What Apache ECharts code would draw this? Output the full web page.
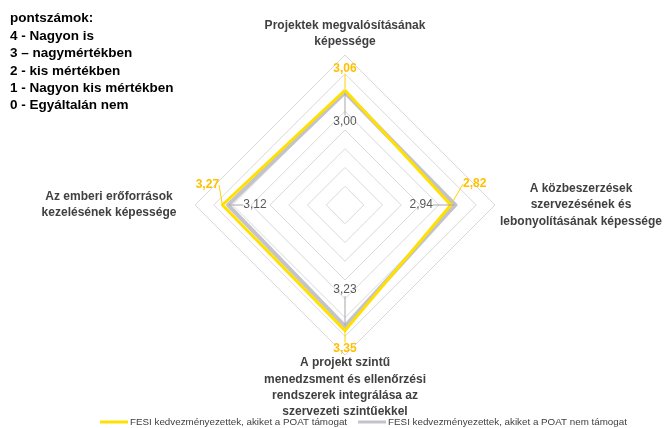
<!DOCTYPE html>
<html>
<head>
<meta charset="utf-8">
<script src="https://cdn.jsdelivr.net/npm/echarts@6/dist/echarts.min.js"></script>
<style>html,body{margin:0;padding:0;background:#fff}#c{width:666px;height:428px}</style>
</head>
<body>
<div id="c"></div>
<script>
// Indicator names (ECharts places them counter-clockwise from the top)
const indicatorNames = [
  'Projektek megvalósításának\nképessége',
  'Az emberi erőforrások\nkezelésének képessége',
  'A projekt szintű\nmenedzsment és ellenőrzési\nrendszerek integrálása az\nszervezeti szintűekkel',
  'A közbeszerzések\nszervezésének és\nlebonyolításának képessége'
];
const seriesNames = [
  'FESI kedvezményezettek, akiket a POAT nem támogat',
  'FESI kedvezményezettek, akiket a POAT támogat'
];
const valuesNotSupported = [3.00, 3.12, 3.23, 2.94];
const valuesSupported = [3.06, 3.27, 3.35, 2.82];
const scaleMax = 4;
const legendText = [
  'pontszámok:',
  '4 - Nagyon is',
  '3 – nagymértékben',
  '2 - kis mértékben',
  '1 - Nagyon kis mértékben',
  '0 - Egyáltalán nem'
];

const CX = 345, CY = 205;
const FONT = 'Liberation Sans, Arial, sans-serif';

// label offsets by series (0 gray, 1 yellow) and direction
const offsets = {
  0: { top: [0, 29], left: [27, 0], bottom: [0, -36], right: [-34, 0] },
  1: { top: [0, -22], left: [-15, -20], bottom: [0, 18], right: [24, -21] }
};
function dirOf(rect) {
  const x = rect.x + rect.width / 2, y = rect.y + rect.height / 2;
  const dx = x - CX, dy = y - CY;
  if (Math.abs(dx) > Math.abs(dy)) return dx > 0 ? 'right' : 'left';
  return dy > 0 ? 'bottom' : 'top';
}

const chart = echarts.init(document.getElementById('c'), null, { renderer: 'canvas' });
chart.setOption({
  animation: false,
  textStyle: { fontFamily: FONT },
  title: {
    text: legendText.join('\n'),
    left: 5, top: 5,
    textStyle: { fontFamily: FONT, fontSize: 13.5, fontWeight: 'bold', color: '#000', lineHeight: 17.4 }
  },
  legend: {
    top: 412, left: 95,
    data: [seriesNames[1], seriesNames[0]],
    icon: 'rect', itemWidth: 28, itemHeight: 3, itemGap: 11,
    textStyle: { fontFamily: FONT, fontSize: 9.8, color: '#404040', padding: [0, 0, 0, -3] }
  },
  radar: {
    center: [CX, CY],
    radius: 150,
    splitNumber: 8,
    shape: 'polygon',
    startAngle: 90,
    indicator: indicatorNames.map(n => ({ name: n, min: 0, max: scaleMax })),
    axisNameGap: 0,
    axisName: {
      formatter: (name) => {
        const body = name.split('\n').map(l => '{c|' + l + '}').join('\n');
        return name === indicatorNames[0] ? body + '\n{s| }' : body;
      },
      rich: {
        c: { width: 172, align: 'center', fontFamily: FONT, fontSize: 12, fontWeight: 'bold', color: '#404040', lineHeight: 16.2 },
        s: { fontSize: 1, lineHeight: 5 }
      }
    },
    axisLine: { show: false },
    axisTick: { show: false },
    axisLabel: { show: false },
    splitArea: { show: false },
    splitLine: { lineStyle: { color: '#d9d9d9', width: 1 } }
  },
  series: [
    {
      type: 'radar',
      name: seriesNames[0],
      symbol: 'circle', symbolSize: 1,
      itemStyle: { color: '#c3c3cb' },
      lineStyle: { color: '#c3c3cb', width: 4 },
      label: {
        show: true, color: '#595959', fontSize: 12, fontFamily: FONT,
        formatter: p => p.value.toFixed(2).replace('.', ',')
      },
      labelLine: { show: true, lineStyle: { color: '#a6a6a6', width: 1 } },
      labelLayout: (p) => {
        const d = dirOf(p.rect), o = offsets[0][d];
        return { x: p.rect.x + p.rect.width / 2 + o[0], y: p.rect.y + p.rect.height / 2 + o[1], align: 'center', verticalAlign: 'middle' };
      },
      data: [{ value: valuesNotSupported, name: seriesNames[0] }]
    },
    {
      type: 'radar',
      name: seriesNames[1],
      symbol: 'circle', symbolSize: 1,
      itemStyle: { color: '#ffe000' },
      lineStyle: { color: '#ffe000', width: 3 },
      label: {
        show: true, color: '#ffc000', fontSize: 12, fontWeight: 'bold', fontFamily: FONT,
        formatter: p => p.value.toFixed(2).replace('.', ',')
      },
      labelLine: { show: true, lineStyle: { color: '#ffd000', width: 1 } },
      labelLayout: (p) => {
        const d = dirOf(p.rect), o = offsets[1][d];
        return { x: p.rect.x + p.rect.width / 2 + o[0], y: p.rect.y + p.rect.height / 2 + o[1], align: 'center', verticalAlign: 'middle' };
      },
      data: [{ value: valuesSupported, name: seriesNames[1] }]
    }
  ]
});
</script>
</body>
</html>
